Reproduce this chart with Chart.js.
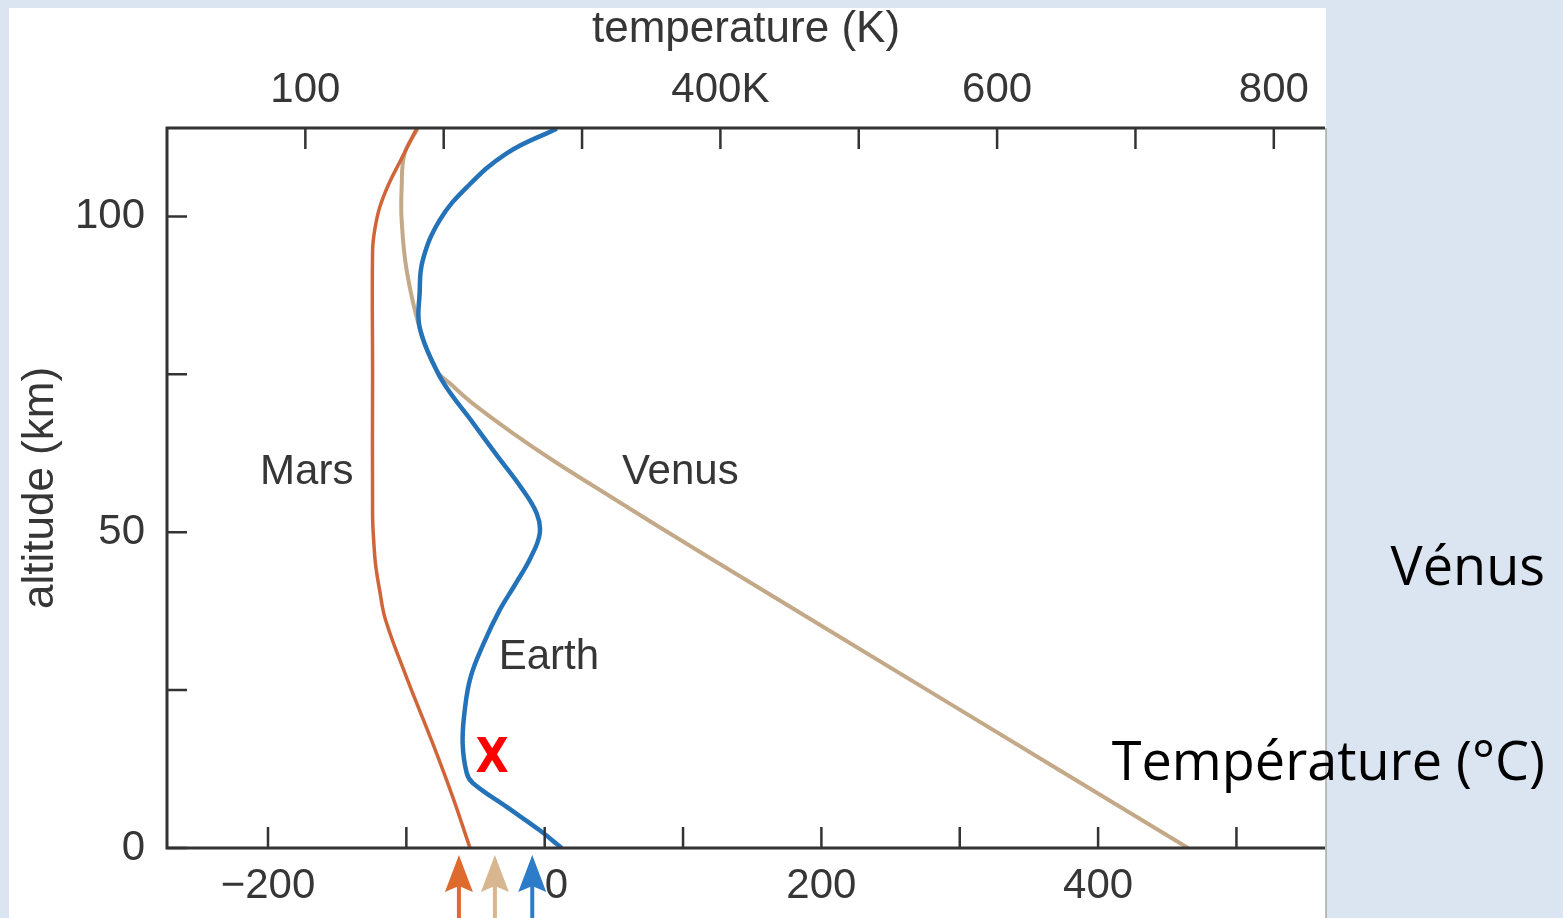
<!DOCTYPE html>
<html>
<head>
<meta charset="utf-8">
<title>Profils de température</title>
<script src="https://cdn.jsdelivr.net/npm/chart.js@4.4.1/dist/chart.umd.min.js"></script>
<style>
    html, body { margin: 0; padding: 0; background: #dbe5f1; }
    #wrap { position: relative; width: 1563px; height: 918px; }
</style>
</head>
<body>
<div id="wrap"><canvas id="profil" width="1563" height="918"></canvas></div>
<script>
// temperature (°C) against altitude (km)
const earthTemp = [12.3, -3.6, -27.5, -52, -56.4, -59.3, -57.8, -53.5, -44.1, -32.5, -21.7, -10.1, -3.6, -5.8, -18.1, -34.7, -54.2, -68.7, -78.1, -90.4, -90.4, -88.2, -75.9, -56.4, -27.5, 8.7];
const earthAlt  = [0, 2.8, 6.5, 10.3, 11.9, 16.6, 21.8, 27.1, 32.4, 37.7, 41.6, 46, 49.8, 53, 57.4, 62.2, 68, 72.2, 75.6, 82.4, 87.8, 93, 99.4, 104.6, 110, 113.9];

const marsTemp = [-54, -66.5, -81, -100, -115, -119.3, -122.2, -123.6, -124.4, -124.4, -124.4, -122.9, -119.3, -112.8, -104.1, -92.6];
const marsAlt  = [0, 8.1, 16.6, 27.1, 36.1, 40.8, 44.8, 48.7, 52.7, 75, 94.6, 97.8, 101.4, 105.1, 108.9, 113.9];

const venusTemp = [465, 289.5, 113.5, 40.5, 5.8, -23.1, -52.1, -67.2, -78.1, -90.4, -99.8, -103.4, -103.4, -101.2, -91.8];
const venusAlt  = [0, 23.3, 46.7, 56.6, 61.4, 65.7, 70.4, 73.3, 75.6, 82.4, 91.5, 99.4, 104.6, 110, 113.9];

// axes
const celsiusTicks  = [-200, -100, 0, 100, 200, 300, 400, 500];
const celsiusLabels = ['\u2212200', '', '  0', '', '200', '', '400', ''];
const kelvinTicks   = [100, 200, 300, 400, 500, 600, 700, 800];
const kelvinLabels  = ['100', '', '', '400K', '', '600', '', '800'];
const altTicks      = [0, 25, 50, 75, 100];
const altLabels     = ['0', '', '50', '', '100'];

// names written next to the curves (°C, km)
const planetNames = ['Mars', 'Venus', 'Earth'];
const nameTemp    = [-172, 98, 3];
const nameAlt     = [59.5, 59.5, 30.2];

// arrows under the axis (°C) and the red cross
const arrowTemp   = [-62, -36, -9];
const crossTemp   = -38;
const crossAlt    = 14;

const MARS = '#d0653a', VENUS = '#c3a987', EARTH = '#2473b9';
const arrowColors = ['#df6a2e', '#d7b690', '#2c7cc9'];
const INK = '#363636';
const FONT = "'Liberation Sans', Arial, sans-serif";

function toPoints(xs, ys) {
    return xs.map((v, i) => ({ x: v, y: ys[i] }));
}

function fixedTicks(values) {
    return function (scale) {
        scale.ticks = values.map(v => ({ value: v }));
    };
}

const slidePlugin = {
    id: 'slide',
    beforeDraw(chart) {
        const { ctx, chartArea } = chart;
        ctx.save();
        ctx.fillStyle = '#dbe5f1';
        ctx.fillRect(0, 0, chart.width, chart.height);
        ctx.fillStyle = '#ffffff';
        ctx.fillRect(9, 8, chartArea.right + 1 - 9, chart.height - 8);
        ctx.restore();
    },
    afterDraw(chart) {
        const { ctx, chartArea: a } = chart;
        const xs = chart.scales.x, x2 = chart.scales.x2, ys = chart.scales.y;
        ctx.save();

        // axis lines
        ctx.strokeStyle = '#333';
        ctx.lineWidth = 3;
        ctx.beginPath();
        ctx.moveTo(a.right, a.top); ctx.lineTo(a.left, a.top);
        ctx.lineTo(a.left, a.bottom); ctx.lineTo(a.right, a.bottom);
        ctx.stroke();

        // inward tick marks
        ctx.lineWidth = 2.5;
        ctx.beginPath();
        celsiusTicks.forEach(v => {
            const p = xs.getPixelForValue(v);
            ctx.moveTo(p, a.bottom); ctx.lineTo(p, a.bottom - 21);
        });
        kelvinTicks.forEach(v => {
            const p = x2.getPixelForValue(v);
            ctx.moveTo(p, a.top); ctx.lineTo(p, a.top + 21);
        });
        altTicks.forEach(v => {
            const p = ys.getPixelForValue(v);
            ctx.moveTo(a.left, p); ctx.lineTo(a.left + 20, p);
        });
        ctx.stroke();

        // right edge of the pasted picture
        ctx.strokeStyle = '#a9a9a9';
        ctx.lineWidth = 1.5;
        ctx.beginPath();
        ctx.moveTo(a.right + 1, a.top); ctx.lineTo(a.right + 1, chart.height);
        ctx.stroke();

        // planet names
        ctx.fillStyle = INK;
        ctx.font = '42px ' + FONT;
        ctx.textAlign = 'center';
        ctx.textBaseline = 'middle';
        planetNames.forEach((n, i) => {
            ctx.fillText(n, xs.getPixelForValue(nameTemp[i]), ys.getPixelForValue(nameAlt[i]));
        });

        // arrows
        arrowTemp.forEach((t, i) => {
            const x = xs.getPixelForValue(t);
            const tip = a.bottom + 7;
            ctx.fillStyle = arrowColors[i];
            ctx.beginPath();
            ctx.moveTo(x, tip);
            ctx.lineTo(x + 14, tip + 37);
            ctx.lineTo(x, tip + 31);
            ctx.lineTo(x - 14, tip + 37);
            ctx.closePath();
            ctx.fill();
            ctx.fillRect(x - 2, tip + 30, 4, chart.height);
        });

        // red cross
        ctx.fillStyle = '#ff0000';
        ctx.font = "bold 48px 'DejaVu Sans Condensed', 'DejaVu Sans', sans-serif";
        ctx.fillText('X', xs.getPixelForValue(crossTemp), ys.getPixelForValue(crossAlt));

        // slide text
        ctx.fillStyle = '#000';
        ctx.font = "54px 'Open Sans', sans-serif";
        ctx.textAlign = 'right';
        ctx.textBaseline = 'alphabetic';
        ctx.fillText('Vénus', 1545, 585);
        ctx.fillText('Température (°C)', 1545, 780);

        ctx.restore();
    }
};

const tickFont = { family: FONT, size: 42 };
const titleFont = { family: FONT, size: 44 };

new Chart(document.getElementById('profil'), {
    type: 'scatter',
    data: {
        datasets: [
            { label: 'Earth', data: toPoints(earthTemp, earthAlt), borderColor: EARTH, borderWidth: 4.5 },
            { label: 'Mars', data: toPoints(marsTemp, marsAlt), borderColor: MARS, borderWidth: 3.5 },
            { label: 'Venus', data: toPoints(venusTemp, venusAlt), borderColor: VENUS, borderWidth: 4 }
        ].map(d => Object.assign(d, { showLine: true, pointRadius: 0, tension: 0.4, fill: false }))
    },
    options: {
        responsive: false,
        animation: false,
        devicePixelRatio: 1,
        layout: { padding: { left: 0, top: 0, right: 238, bottom: 0 } },
        plugins: { legend: { display: false }, tooltip: { enabled: false } },
        scales: {
            x: {
                type: 'linear', position: 'bottom', min: -273, max: 564,
                afterBuildTicks: fixedTicks(celsiusTicks),
                afterFit: s => { s.height = 70; },
                grid: { display: false, drawTicks: false },
                border: { display: false },
                ticks: {
                    font: tickFont, color: INK, padding: 13, autoSkip: false, maxRotation: 0,
                    callback: v => celsiusLabels[celsiusTicks.indexOf(v)] || ''
                }
            },
            x2: {
                type: 'linear', position: 'top', min: 0, max: 837,
                afterBuildTicks: fixedTicks(kelvinTicks),
                afterFit: s => { s.height = 128; },
                grid: { display: false, drawTicks: false },
                border: { display: false },
                title: { display: true, text: 'temperature (K)', font: titleFont, color: INK, padding: { top: 3, bottom: 0 } },
                ticks: {
                    font: tickFont, color: INK, padding: 12, autoSkip: false, maxRotation: 0,
                    callback: v => kelvinLabels[kelvinTicks.indexOf(v)] || ''
                }
            },
            y: {
                type: 'linear', position: 'left', min: 0, max: 114,
                afterBuildTicks: fixedTicks(altTicks),
                afterFit: s => { s.width = 167; },
                grid: { display: false, drawTicks: false },
                border: { display: false },
                title: { display: true, text: 'altitude (km)', font: titleFont, color: INK, padding: { top: 14, bottom: 0 } },
                ticks: {
                    font: tickFont, color: INK, padding: 22, autoSkip: false,
                    callback: v => altLabels[altTicks.indexOf(v)] || ''
                }
            }
        }
    },
    plugins: [slidePlugin]
});
</script>
</body>
</html>
